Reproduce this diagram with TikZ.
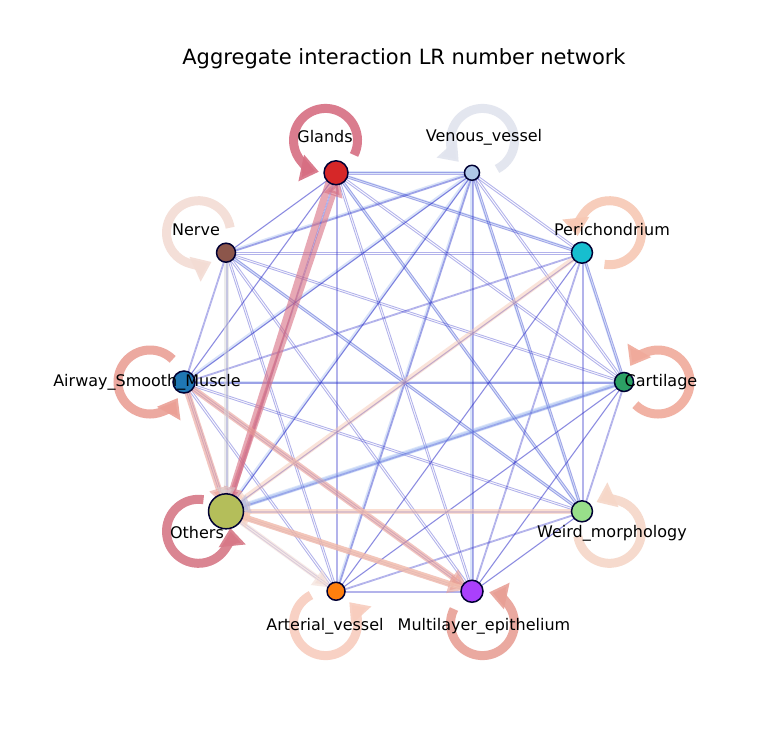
\documentclass[tikz,border=0pt]{standalone}
\usepackage{fontspec}
\setmainfont{DejaVu Sans}
\usetikzlibrary{arrows.meta,calc}
\definecolor{cg}{RGB}{214,39,40}\definecolor{cv}{RGB}{174,199,232}
\definecolor{cp}{RGB}{23,190,207}\definecolor{cc}{RGB}{44,160,100}
\definecolor{cw}{RGB}{152,223,138}\definecolor{cm}{RGB}{170,64,252}
\definecolor{ca}{RGB}{255,127,14}\definecolor{co}{RGB}{180,190,90}
\definecolor{cs}{RGB}{31,119,180}\definecolor{cn}{RGB}{140,86,75}
\definecolor{kg}{RGB}{215,110,130}\definecolor{kv}{RGB}{225,228,238}
\definecolor{kp}{RGB}{247,200,180}\definecolor{kc}{RGB}{240,170,155}
\definecolor{kw}{RGB}{246,215,200}\definecolor{km}{RGB}{232,160,150}
\definecolor{ka}{RGB}{248,205,190}\definecolor{ko}{RGB}{215,120,135}
\definecolor{ks}{RGB}{235,160,150}\definecolor{kn}{RGB}{243,220,212}
\definecolor{thin}{RGB}{40,40,200}\definecolor{kb}{RGB}{150,180,240}
\tikzset{nd/.style={circle,draw=black!80!blue,line width=1.5pt,inner sep=0pt},
 lab/.style={font=\fontsize{16}{16}\selectfont},
 te/.style={draw=thin,opacity=0.35,line width=0.9pt,shorten >=3pt,shorten <=3pt,-{Stealth[length=5pt,width=4pt]}},
 he/.style={opacity=0.6,shorten >=6pt,shorten <=4pt,-{Triangle[length=18pt,width=18pt]}},
 loopst/.style={line width=9pt,opacity=0.9}}
\begin{document}
\begin{tikzpicture}[x=1pt,y=-1pt]
\useasboundingbox (0,0) rectangle (775,740);
\fill[white] (0,0) rectangle (775,740);
\coordinate (ctr) at (404,382);
\foreach \th/\c in {-108/kg,-72/kv,-36/kp,0/kc,36/kw,72/km,108/ka,144/ko,180/ks,216/kn}{
  \pgfmathsetmacro\sa{\th+180-45}
  \pgfmathsetmacro\ea{\th+180-45-285}
  \draw[loopst,\c,-{Triangle[length=18pt,width=26pt]}] ($(ctr)+(\th:254)+(\sa:32)$) arc (\sa:\ea:32);
}
\foreach \n/\th in {g/-108,v/-72,p/-36,c/0,w/36,m/72,a/108,o/144,s/180,n/216}{
  \coordinate (\n) at ($(ctr)+(\th:220)$);
}
\foreach \x/\y in {v/o,v/w,v/s,v/n,g/v,v/m,o/c,s/c,g/w,n/w,p/c,g/p,v/a}{
  \draw[kb,line width=3pt,opacity=0.35,shorten >=8pt,shorten <=8pt] (\x) -- (\y);}
\foreach \x/\i in {g/1,v/2,p/3,c/4,w/5,m/6,a/7,o/8,s/9,n/10}{
 \foreach \y/\j in {g/1,v/2,p/3,c/4,w/5,m/6,a/7,o/8,s/9,n/10}{
  \ifnum\i<\j
   \draw[te,transform canvas={shift={(0,1.5)}}] (\x) -- (\y);
   \draw[te,transform canvas={shift={(1.5,0)}}] (\y) -- (\x);
  \fi}}
\draw[he,kg,line width=7pt] ([xshift=-4]g) -- (o);
\draw[he,kg,line width=5pt] (o) -- ([xshift=5]g);
\draw[he,ks,line width=6pt] (s) -- (o);
\draw[he,ks,line width=6pt] (s) -- (m);
\draw[he,km,line width=6pt] (o) -- (m);
\draw[he,kp,line width=5pt] (m) -- (o);
\draw[he,kp,line width=5pt] (w) -- (o);
\draw[he,kp,line width=5pt,opacity=0.5] (p) -- (o);
\draw[he,kn,line width=5pt] (o) -- (a);
\draw[he,black!15,line width=5pt,opacity=0.5] (n) -- (o);
\draw[he,kb,line width=5pt,opacity=0.35] (c) -- (o);
\node[nd,fill=cg,minimum size=24pt] (G) at (g) {};
\node[nd,fill=cv,minimum size=15pt] (V) at (v) {};
\node[nd,fill=cp,minimum size=21pt] (P) at (p) {};
\node[nd,fill=cc,minimum size=19pt] (C) at (c) {};
\node[nd,fill=cw,minimum size=21pt] (W) at (w) {};
\node[nd,fill=cm,minimum size=22pt] (M) at (m) {};
\node[nd,fill=ca,minimum size=18pt] (A) at (a) {};
\node[nd,fill=co,minimum size=35pt] (O) at (o) {};
\node[nd,fill=cs,minimum size=22pt] (S) at (s) {};
\node[nd,fill=cn,minimum size=19pt] (N) at (n) {};
\node[lab] (tG) at (325,137) {Glands};
\node[lab] (tV) at (484,137) {Venous\_vessel};
\node[lab] (tP) at (612,230) {Perichondrium};
\node[lab] (tC) at (661,382) {Cartilage};
\node[lab] (tW) at (612,533) {Weird\_morphology};
\node[lab] (tM) at (484,626) {Multilayer\_epithelium};
\node[lab] (tA) at (325,626) {Arterial\_vessel};
\node[lab] (tO) at (197,533) {Others};
\node[lab] (tS) at (147,382) {Airway\_Smooth\_Muscle};
\node[lab] (tN) at (196,230) {Nerve};
\node[font=\fontsize{21}{21}\selectfont] (title) at (404,59) {Aggregate interaction LR number network};
\end{tikzpicture}
\end{document}
